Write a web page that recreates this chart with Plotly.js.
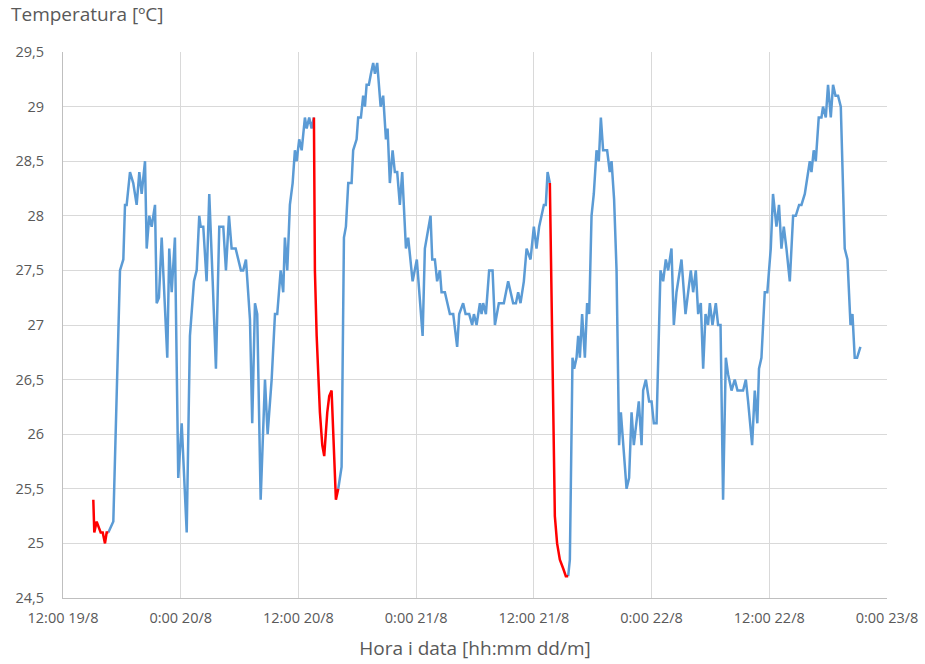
<!DOCTYPE html>
<html>
<head>
<meta charset="utf-8">
<script src="https://cdn.plot.ly/plotly-3.0.1.min.js"></script>
<style>
  html, body { margin: 0; padding: 0; background: #ffffff; }
  #chart { width: 925px; height: 664px; }
</style>
</head>
<body>
<div id="chart"></div>
<script>
// Hours elapsed since 12:00 19/8
const hours = [
  3.09, 3.19, 3.43, 3.60, 3.84, 4.05, 4.28, 4.45, 4.62,
  5.13, 5.81, 6.15, 6.32, 6.49, 6.83, 7.16, 7.51, 7.78, 8.02,
  8.36, 8.53, 8.79, 9.04, 9.38, 9.55, 9.78, 10.06, 10.63, 10.83,
  11.08, 11.41, 11.75, 12.10, 12.61, 12.94, 13.35, 13.63, 13.89, 14.03,
  14.30, 14.64, 14.91, 15.26, 15.59, 15.93, 16.34, 16.61, 16.92, 17.19,
  17.60, 18.14, 18.37, 18.65, 19.06, 19.29, 19.57, 19.80, 20.15, 20.59,
  20.86, 21.27, 21.61, 21.84, 22.19, 22.45, 22.62, 22.86, 23.13, 23.41,
  23.64, 23.82, 24.08, 24.33, 24.66, 24.84, 25.10, 25.34, 25.58,
  25.68, 25.86, 26.19, 26.43, 26.63, 26.94, 27.14, 27.38, 27.62, 27.82, 28.06,
  28.40, 28.64, 28.84, 29.08, 29.42, 29.58, 29.93, 30.09, 30.37, 30.60,
  30.78, 30.95, 31.18, 31.39, 31.62, 31.80, 32.03, 32.38, 32.64, 32.92,
  33.09, 33.32, 33.60, 33.83, 34.07, 34.34, 34.58, 34.96, 35.19, 35.64,
  36.07, 36.66, 36.89, 37.47, 37.64, 37.91, 38.14, 38.42, 38.59, 38.93,
  39.44, 39.78, 40.18, 40.39, 40.79, 41.04, 41.41, 41.71, 41.89, 42.16,
  42.50, 42.67, 42.83, 43.11, 43.44, 43.79, 44.03, 44.43, 44.94, 45.38,
  45.89, 46.17, 46.40, 46.64, 46.98, 47.26, 47.66, 48.00, 48.27, 48.54,
  48.78, 49.02, 49.22, 49.40, 49.63,
  49.80, 49.97, 50.14, 50.37, 50.65, 50.99, 51.26, 51.50,
  51.67, 51.94, 52.11, 52.35, 52.52, 52.69, 52.92, 53.20, 53.43, 53.64,
  53.88, 54.11, 54.39, 54.62, 54.83, 55.06, 55.47, 55.74, 55.92, 56.18,
  56.43, 56.69, 56.87, 57.45, 57.71, 57.96, 58.19, 58.70, 58.98, 59.14,
  59.42, 59.75, 60.00, 60.23, 60.51, 60.91, 61.18, 61.45, 61.69, 62.03,
  62.27, 62.54, 63.05, 63.46, 64.00, 64.24, 64.51, 64.75, 65.02, 65.26,
  65.50, 65.76, 65.94, 66.21, 66.55, 66.78, 67.03, 67.29, 67.57, 67.80,
  68.15, 68.48, 68.76, 69.33, 69.61, 69.84, 70.25, 70.52, 70.78, 70.95,
  71.20, 71.54, 71.80, 72.15, 72.38, 72.73, 72.99, 73.24, 73.48, 73.75,
  74.09, 74.43, 74.70, 75.04, 75.28, 75.62, 75.79, 76.13, 76.30, 76.53,
  76.74, 77.04, 77.32, 77.48, 77.76, 77.99, 78.27, 78.50, 78.75, 79.01,
  79.29, 79.46, 79.69, 79.97, 80.28, 80.48, 80.71, 80.95, 81.29
];

// Temperature readings [ºC]
const temps = [
  25.4, 25.1, 25.2, 25.15, 25.1, 25.1, 25.0, 25.1, 25.1,
  25.2, 27.5, 27.6, 28.1, 28.1, 28.4, 28.3, 28.1, 28.4, 28.2,
  28.5, 27.7, 28.0, 27.9, 28.1, 27.2, 27.25, 27.8, 26.7, 27.7,
  27.3, 27.8, 25.6, 26.1, 25.1, 26.9, 27.4, 27.5, 28.0, 27.9,
  27.9, 27.4, 28.2, 27.4, 26.6, 27.9, 27.9, 27.5, 28.0, 27.7,
  27.7, 27.5, 27.5, 27.6, 27.05, 26.1, 27.2, 27.1, 25.4, 26.5,
  26.0, 26.5, 27.1, 27.1, 27.5, 27.3, 27.8, 27.5, 28.1, 28.3,
  28.6, 28.5, 28.7, 28.6, 28.9, 28.8, 28.9, 28.8, 28.9,
  27.5, 26.9, 26.2, 25.9, 25.8, 26.2, 26.35, 26.4, 25.9, 25.4, 25.5,
  25.7, 27.8, 27.9, 28.3, 28.3, 28.6, 28.7, 28.9, 28.9, 29.1,
  29.0, 29.2, 29.2, 29.3, 29.4, 29.3, 29.4, 29.0, 29.1, 28.7,
  28.8, 28.3, 28.6, 28.4, 28.4, 28.1, 28.4, 27.7, 27.8, 27.4,
  27.6, 26.9, 27.7, 28.0, 27.6, 27.6, 27.4, 27.5, 27.3, 27.3,
  27.1, 27.1, 26.8, 27.1, 27.2, 27.1, 27.1, 27.0, 27.1, 27.0,
  27.2, 27.1, 27.2, 27.1, 27.5, 27.5, 27.0, 27.2, 27.2, 27.4,
  27.2, 27.2, 27.3, 27.2, 27.4, 27.7, 27.6, 27.9, 27.7, 27.9,
  28.0, 28.1, 28.1, 28.4, 28.3,
  27.2, 26.2, 25.25, 25.0, 24.85, 24.77, 24.7, 24.7,
  24.85, 26.7, 26.6, 26.7, 26.9, 26.7, 27.1, 26.7, 27.2, 27.1,
  28.0, 28.2, 28.6, 28.5, 28.9, 28.6, 28.6, 28.4, 28.5, 28.15,
  27.5, 25.9, 26.2, 25.5, 25.6, 26.2, 25.9, 26.3, 25.9, 26.4,
  26.5, 26.3, 26.3, 26.1, 26.1, 27.5, 27.4, 27.6, 27.5, 27.7,
  27.0, 27.3, 27.6, 27.1, 27.5, 27.3, 27.5, 27.1, 27.2, 26.6,
  27.1, 27.0, 27.2, 27.0, 27.2, 27.0, 27.0, 25.4, 26.7, 26.55,
  26.4, 26.5, 26.4, 26.4, 26.5, 26.3, 25.9, 26.4, 26.1, 26.6,
  26.7, 27.3, 27.3, 27.7, 28.2, 27.9, 28.1, 27.7, 27.9, 27.7,
  27.4, 28.0, 28.0, 28.1, 28.1, 28.2, 28.3, 28.5, 28.4, 28.6,
  28.5, 28.9, 28.9, 29.0, 28.9, 29.2, 28.9, 29.2, 29.1, 29.1,
  29.0, 28.4, 27.7, 27.6, 27.0, 27.1, 26.7, 26.7, 26.8
];

// Stretches of the record highlighted in red [start hour, end hour]
const redSpans = [[3.09, 4.62], [25.58, 28.06], [49.63, 51.50]];

// Axis ticks
const tickHours = [0, 12, 24, 36, 48, 60, 72, 84];
const tickLabels = ['12:00 19/8', '0:00 20/8', '12:00 20/8', '0:00 21/8',
                    '12:00 21/8', '0:00 22/8', '12:00 22/8', '0:00 23/8'];

const inRed = h => redSpans.some(([a, b]) => h >= a && h <= b);
const insideRed = h => redSpans.some(([a, b]) => h > a && h < b);

const blueY = temps.map((t, i) => insideRed(hours[i]) ? null : t);
const redY = temps.map((t, i) => inRed(hours[i]) ? t : null);

const textColor = '#595959';
const fontFamily = '"Open Sans", "Noto Sans", sans-serif';

const traces = [
  {
    x: hours, y: blueY, type: 'scatter', mode: 'lines',
    line: { color: '#5B9BD5', width: 2.5 },
    connectgaps: false, hoverinfo: 'x+y', showlegend: false
  },
  {
    x: hours, y: redY, type: 'scatter', mode: 'lines',
    line: { color: '#FF0000', width: 2.5 },
    connectgaps: false, hoverinfo: 'x+y', showlegend: false
  }
];

const layout = {
  width: 925,
  height: 664,
  margin: { l: 63, r: 38, t: 52, b: 66 },
  paper_bgcolor: '#ffffff',
  plot_bgcolor: '#ffffff',
  separators: ',.',
  font: { family: fontFamily, color: textColor, size: 14.5 },
  title: {
    text: 'Temperatura [ºC]',
    xref: 'container', yref: 'container',
    x: 0, xanchor: 'left', y: 1, yanchor: 'top',
    pad: { l: 11, t: 8 },
    font: { family: fontFamily, size: 19, color: textColor }
  },
  xaxis: {
    range: [0, 84],
    tickmode: 'array',
    tickvals: tickHours,
    ticktext: tickLabels,
    showgrid: true, gridcolor: '#d9d9d9', gridwidth: 1,
    zeroline: false,
    showline: true, linecolor: '#bfbfbf', linewidth: 1,
    ticks: '',
    ticklabelstandoff: 7,
    tickfont: { family: fontFamily, size: 14.5, color: textColor },
    title: {
      text: 'Hora i data [hh:mm dd/m]',
      standoff: 15,
      font: { family: fontFamily, size: 19, color: textColor }
    },
    fixedrange: true
  },
  yaxis: {
    range: [24.5, 29.5],
    tick0: 24.5, dtick: 0.5,
    showgrid: true, gridcolor: '#d9d9d9', gridwidth: 1,
    zeroline: false,
    showline: true, linecolor: '#bfbfbf', linewidth: 1,
    ticks: '',
    ticklabelstandoff: 15,
    tickfont: { family: fontFamily, size: 14.5, color: textColor },
    fixedrange: true
  }
};

Plotly.newPlot('chart', traces, layout, { displayModeBar: false, staticPlot: true });
</script>
</body>
</html>
